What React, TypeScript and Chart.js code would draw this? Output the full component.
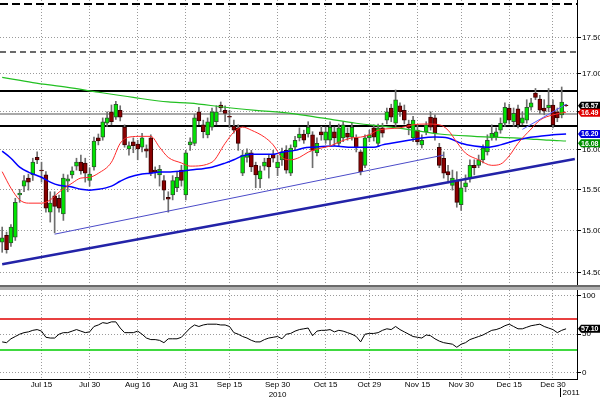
import React, { useEffect, useRef } from 'react';
import { Chart, registerables } from 'chart.js';

Chart.register(...registerables);

// ---------- categories ----------
const FIRST_DAY = '2010-07-01';
const HOLIDAYS = ['2010-07-05', '2010-09-06', '2010-11-25', '2010-12-24'];
const SLOTS = 132;
const MONTH_NAMES = ['Jan', 'Feb', 'Mar', 'Apr', 'May', 'Jun', 'Jul', 'Aug', 'Sep', 'Oct', 'Nov', 'Dec'];

function buildTradingDays(): string[] {
  const out: string[] = [];
  const d = new Date(FIRST_DAY + 'T00:00:00Z');
  while (out.length < SLOTS) {
    const iso = d.toISOString().slice(0, 10);
    const wd = d.getUTCDay();
    if (wd !== 0 && wd !== 6 && !HOLIDAYS.includes(iso)) {
      out.push(`${MONTH_NAMES[d.getUTCMonth()]} ${d.getUTCDate()}`);
    }
    d.setUTCDate(d.getUTCDate() + 1);
  }
  return out;
}
const dates = buildTradingDays();

const tickDates = ['Jul 15', 'Jul 30', 'Aug 16', 'Aug 31', 'Sep 15', 'Sep 30', 'Oct 15', 'Oct 29', 'Nov 15', 'Nov 30', 'Dec 15', 'Dec 30'];
const yearLabels = ['2010', '2011'];

// ---------- price series (OHLC) ----------
const opens = [14.86,14.94,14.85,14.92,15.43,15.54,15.64,15.68,15.90,15.74,
15.68,15.22,15.42,15.39,15.20,15.60,15.68,15.79,15.84,15.83,
15.61,15.78,16.15,16.16,16.34,16.49,16.42,16.51,16.29,16.01,
16.10,16.07,16.03,16.01,16.15,15.74,15.68,15.61,15.40,15.43,
15.52,15.74,15.43,16.06,16.08,16.49,16.32,16.19,16.29,16.36,
16.58,16.51,16.43,16.30,16.28,15.70,15.90,15.96,15.80,15.63,
15.79,15.89,15.94,15.77,15.87,15.99,15.70,16.03,16.15,16.20,
16.20,16.19,15.96,16.23,16.12,16.12,16.23,16.08,16.15,16.21,
16.16,16.15,15.97,15.80,16.15,16.28,16.08,16.28,16.38,16.54,
16.34,16.57,16.51,16.33,16.15,16.25,16.06,16.23,16.42,16.41,
16.03,15.89,15.72,15.55,15.61,15.31,15.53,15.64,15.80,15.80,
15.87,15.97,16.15,16.16,16.25,16.34,16.54,16.36,16.53,16.34,
16.38,16.55,16.74,16.66,16.54,16.54,16.58,16.49,16.45,16.58];

const highs = [15.04,14.98,15.07,15.39,15.50,15.67,15.69,15.89,15.97,15.84,
15.72,15.47,15.47,15.43,15.69,15.68,15.78,15.89,15.93,15.89,
15.77,16.16,16.20,16.41,16.49,16.58,16.63,16.57,16.32,16.10,
16.15,16.12,16.21,16.06,16.19,15.78,15.80,15.67,15.47,15.67,
15.72,15.80,15.99,16.15,16.46,16.55,16.38,16.41,16.54,16.57,
16.62,16.57,16.51,16.38,16.32,15.99,16.01,15.99,15.84,15.79,
15.89,15.94,15.99,15.93,16.02,16.05,16.06,16.17,16.28,16.25,
16.36,16.23,16.15,16.30,16.29,16.36,16.29,16.33,16.36,16.28,
16.34,16.19,15.99,16.19,16.25,16.32,16.33,16.34,16.54,16.59,
16.78,16.61,16.58,16.38,16.43,16.32,16.19,16.36,16.49,16.45,
16.08,15.97,15.80,15.74,15.72,15.61,15.68,15.87,15.87,15.93,
16.06,16.19,16.32,16.28,16.41,16.61,16.59,16.54,16.58,16.49,
16.65,16.67,16.80,16.71,16.65,16.80,16.65,16.54,16.82,16.59];

const lows = [14.74,14.73,14.81,14.88,15.34,15.47,15.49,15.61,15.82,15.59,
15.22,15.10,14.97,15.22,15.12,15.47,15.64,15.74,15.69,15.59,
15.54,15.74,16.06,16.12,16.30,16.32,16.39,16.37,16.03,15.93,
15.96,15.87,15.97,15.90,15.67,15.64,15.54,15.37,15.22,15.37,
15.47,15.54,15.37,15.99,16.05,16.32,16.15,16.15,16.25,16.32,
16.49,16.36,16.28,16.21,15.99,15.67,15.84,15.72,15.52,15.52,
15.74,15.64,15.84,15.67,15.80,15.70,15.67,15.99,16.11,16.08,
16.16,15.77,15.92,16.12,16.08,16.06,16.05,16.05,16.10,16.12,
16.12,15.97,15.68,15.77,16.10,16.11,16.05,16.16,16.33,16.36,
16.30,16.43,16.33,16.19,16.10,16.06,16.02,16.19,16.25,16.12,
15.77,15.64,15.58,15.49,15.28,15.24,15.47,15.59,15.68,15.77,
15.83,15.93,16.12,16.12,16.21,16.30,16.33,16.30,16.28,16.32,
16.34,16.51,16.65,16.47,16.45,16.49,16.28,16.36,16.41,16.56];

const closes = [14.91,14.77,15.04,15.34,15.45,15.61,15.59,15.84,15.87,15.73,
15.27,15.33,15.29,15.27,15.64,15.63,15.73,15.84,15.73,15.70,
15.69,16.11,16.11,16.36,16.41,16.36,16.59,16.42,16.06,16.05,
16.05,16.01,16.15,15.98,15.70,15.72,15.75,15.49,15.38,15.61,
15.65,15.61,15.96,16.10,16.41,16.37,16.23,16.36,16.49,16.49,
16.54,16.47,16.42,16.25,16.08,15.93,15.96,15.78,15.68,15.73,
15.84,15.78,15.89,15.84,15.97,15.74,16.02,16.12,16.20,16.12,
16.29,15.99,16.08,16.19,16.23,16.29,16.15,16.28,16.32,16.16,
16.29,16.02,15.72,16.15,16.19,16.16,16.28,16.21,16.49,16.42,
16.65,16.49,16.38,16.28,16.38,16.10,16.12,16.32,16.29,16.21,
15.80,15.70,15.68,15.64,15.34,15.52,15.58,15.80,15.77,15.87,
16.02,16.12,16.21,16.23,16.34,16.55,16.38,16.47,16.32,16.41,
16.55,16.61,16.68,16.51,16.50,16.58,16.32,16.41,16.62,16.57];

// ---------- moving averages (read at sample points) ----------
const redMAIdx = [0,2,4,6,9,11,13,16,18,20,22,25,27,29,32,34,36,38,41,43,48,51,53,55,57,60,62,64,66,68,70,73,75,77,80,82,84,86,91,94,97,100,102,104,106,109,112,114,116,118,121,123,126,129];
const redMAVal = [15.72,15.515,15.37,15.33,15.33,15.37,15.465,15.577,15.64,15.65,15.70,15.84,16.08,16.16,16.17,16.17,16.03,15.90,15.83,15.79,15.84,16.08,16.225,16.29,16.25,16.16,16.06,15.90,15.87,15.90,15.967,16.02,16.045,16.095,16.15,16.16,16.19,16.25,16.28,16.32,16.33,16.32,16.25,16.095,15.955,15.87,15.80,15.815,15.92,16.08,16.265,16.38,16.45,16.485];

const blueMAIdx = [0,2,4,6,9,11,13,16,18,20,22,25,27,29,32,34,36,38,41,43,48,51,53,55,57,62,64,67,69,71,76,80,85,87,89,93,96,99,102,105,108,111,114,117,120,123,126,129];
const blueMAVal = [15.98,15.89,15.777,15.715,15.65,15.59,15.55,15.53,15.50,15.49,15.50,15.54,15.60,15.65,15.69,15.70,15.715,15.715,15.727,15.74,15.777,15.828,15.87,15.92,15.94,15.94,15.967,15.99,16.02,16.03,16.045,16.03,16.03,16.06,16.08,16.12,16.15,16.16,16.15,16.08,16.045,16.03,16.06,16.11,16.15,16.17,16.19,16.20];

const greenMAIdx = [0,7,15,22,30,38,43,51,58,66,73,81,89,94,100,108,112,117,121,125,129];
const greenMAVal = [16.95,16.88,16.815,16.75,16.68,16.62,16.605,16.55,16.51,16.47,16.41,16.34,16.29,16.25,16.20,16.17,16.16,16.15,16.135,16.12,16.11];

// ---------- trend lines (endpoints) ----------
const trendMainIdx = [0, 131];
const trendMainVal = [14.60, 15.88];
const trendLowIdx = [12, 101];
const trendLowVal = [14.955, 15.93];
const trendShortIdx = [119, 129];
const trendShortVal = [16.26, 16.59];

// ---------- horizontal levels ----------
const levelValues = [17.97, 17.29, 16.77, 16.46, 16.30];

// ---------- axis ticks & tags ----------
const priceTicks = [14.5, 15, 15.5, 16, 16.5, 17, 17.5];
const priceMin = 14.36;
const priceMax = 18.03;
const tagValues = [16.57, 16.49, 16.20, 16.08];

// ---------- RSI ----------
const rsiValues = [40,39,44,47,50,52,53,55,56,54,
46,45,45,50,52,52,54,56,54,52,
53,60,62,65,64,66,66,58,52,52,
52,54,50,45,43,43,42,39,44,44,
44,46,52,58,62,60,62,63,63,63,
62,62,60,52,50,47,45,42,40,40,
43,45,46,47,44,50,51,54,56,57,
58,48,54,55,55,56,53,55,54,52,
50,47,40,50,51,51,52,55,57,56,
60,56,53,50,47,46,45,49,48,44,
41,39,38,37,33,37,39,43,45,47,
49,52,55,56,58,61,63,60,57,57,
59,61,62,63,60,58,56,52,55,57];
const rsiTicks = [0, 50, 100];
const rsiBands = [70, 30];
const rsiLast = 57.10;
const rsiMin = -8.2;
const rsiMax = 107.4;

const FONT_FAMILY = "'Liberation Sans', Arial, sans-serif";

function pts(idx: number[], vals: number[]) {
  return idx.map((i, k) => ({ x: dates[i], y: vals[k] }));
}

export default function App() {
  const topRef = useRef<HTMLCanvasElement>(null);
  const botRef = useRef<HTMLCanvasElement>(null);

  useEffect(() => {
    document.body.style.margin = '0';
    const font = { family: FONT_FAMILY, size: 8 };
    const gridColor = '#9a9a9a';
    const filterTicks = (s: any) => {
      s.ticks = s.ticks.filter((t: any) => tickDates.includes(dates[t.value]));
    };
    const fitRight = (s: any) => {
      s.width = 23;
      s.paddingTop = 0;
      s.paddingBottom = 0;
    };

    const levelStyles = [
      { color: '#000000', width: 2, dash: [8, 4] },
      { color: '#6a6a6a', width: 2, dash: [6, 4] },
      { color: '#000000', width: 2, dash: [] as number[] },
      { color: '#8c8c8c', width: 1.5, dash: [] as number[] },
      { color: '#000000', width: 2, dash: [] as number[] },
    ];
    const tagColors = ['#000000', '#e00000', '#0000e0', '#009000'];

    const levelPlugin = {
      id: 'levels',
      beforeDatasetsDraw(chart: any) {
        const { ctx, chartArea } = chart;
        const ys = chart.scales.y;
        ctx.save();
        levelValues.forEach((v, k) => {
          const st = levelStyles[k];
          const y = Math.round(ys.getPixelForValue(v));
          ctx.beginPath();
          ctx.strokeStyle = st.color;
          ctx.lineWidth = st.width;
          ctx.setLineDash(st.dash);
          ctx.moveTo(chartArea.left, y);
          ctx.lineTo(chartArea.right, y);
          ctx.stroke();
        });
        ctx.restore();
      },
    };

    const drawTag = (ctx: any, x: number, y: number, text: string, bg: string) => {
      const h = 8;
      ctx.fillStyle = bg;
      ctx.beginPath();
      ctx.moveTo(x, y);
      ctx.lineTo(x + 3, y - h / 2);
      ctx.lineTo(600, y - h / 2);
      ctx.lineTo(600, y + h / 2);
      ctx.lineTo(x + 3, y + h / 2);
      ctx.closePath();
      ctx.fill();
      ctx.fillStyle = '#ffffff';
      ctx.font = `bold 7px ${FONT_FAMILY}`;
      ctx.textBaseline = 'middle';
      ctx.textAlign = 'left';
      ctx.fillText(text, x + 3, y + 0.5);
    };

    const tagPlugin = {
      id: 'tags',
      afterDraw(chart: any) {
        const { ctx, chartArea } = chart;
        const ys = chart.scales.y;
        const items = tagValues.map((v, k) => ({ v, k, y: ys.getPixelForValue(v) }));
        items.sort((a, b) => a.y - b.y);
        for (let i = 1; i < items.length; i++) {
          if (items[i].y < items[i - 1].y + 7) items[i].y = items[i - 1].y + 7;
        }
        ctx.save();
        items.forEach((it) => drawTag(ctx, chartArea.right + 1, it.y, it.v.toFixed(2), tagColors[it.k]));
        ctx.restore();
      },
    };

    const top = new Chart(topRef.current as HTMLCanvasElement, {
      type: 'bar',
      data: {
        labels: dates,
        datasets: [
          { type: 'line', data: pts(trendMainIdx, trendMainVal), borderColor: '#2323a8', borderWidth: 2.5, pointRadius: 0 } as any,
          { type: 'line', data: pts(trendLowIdx, trendLowVal), borderColor: '#4b4bc8', borderWidth: 1, pointRadius: 0 } as any,
          { type: 'line', data: pts(trendShortIdx, trendShortVal), borderColor: '#5a5aff', borderWidth: 1, pointRadius: 0 } as any,
          { type: 'line', data: pts(redMAIdx, redMAVal), borderColor: '#ff2a2a', borderWidth: 1, pointRadius: 0, cubicInterpolationMode: 'monotone' } as any,
          { type: 'line', data: pts(blueMAIdx, blueMAVal), borderColor: '#0000ff', borderWidth: 1.5, pointRadius: 0, cubicInterpolationMode: 'monotone' } as any,
          { type: 'line', data: pts(greenMAIdx, greenMAVal), borderColor: '#22c022', borderWidth: 1.2, pointRadius: 0, cubicInterpolationMode: 'monotone' } as any,
          {
            type: 'bar',
            data: opens.map((o, i) => [o, closes[i]]),
            backgroundColor: opens.map((o, i) => (closes[i] >= o ? '#00e600' : '#8a0000')),
            borderColor: opens.map((o, i) => (closes[i] >= o ? '#2d5a2d' : '#3a0000')),
            borderWidth: 1,
            borderSkipped: false,
            barThickness: 4,
            grouped: false,
          } as any,
          {
            type: 'bar',
            data: lows.map((l, i) => [l, highs[i]]),
            backgroundColor: '#6e6e6e',
            barThickness: 1,
            grouped: false,
          } as any,
        ],
      },
      options: {
        animation: false,
        responsive: false,
        devicePixelRatio: 1,
        layout: { padding: 0 },
        plugins: { legend: { display: false }, tooltip: { enabled: false } },
        scales: {
          x: {
            type: 'category',
            offset: true,
            grid: { color: gridColor, offset: false, drawTicks: false },
            border: { display: false, dash: [1, 2] },
            ticks: { display: false },
            afterBuildTicks: filterTicks,
          },
          y: {
            type: 'logarithmic',
            position: 'right',
            min: priceMin,
            max: priceMax,
            afterBuildTicks: (s: any) => {
              s.ticks = priceTicks.map((v) => ({ value: v }));
            },
            afterFit: fitRight,
            ticks: { font, color: '#000', padding: 1, callback: (v: any) => Number(v).toFixed(2) },
            grid: { color: gridColor, tickColor: '#000', tickLength: 4 },
            border: { display: true, color: '#000', dash: [1, 2] },
          },
        },
      } as any,
      plugins: [levelPlugin, tagPlugin],
    });

    const rsiPlugin = {
      id: 'rsiExtras',
      beforeDatasetsDraw(chart: any) {
        const { ctx, chartArea } = chart;
        const ys = chart.scales.y;
        const colors = ['#e00000', '#00cc00'];
        ctx.save();
        rsiBands.forEach((v, k) => {
          const y = Math.round(ys.getPixelForValue(v));
          ctx.beginPath();
          ctx.strokeStyle = colors[k];
          ctx.lineWidth = 1.5;
          ctx.moveTo(chartArea.left, y);
          ctx.lineTo(chartArea.right, y);
          ctx.stroke();
        });
        ctx.restore();
      },
      afterDraw(chart: any) {
        const { ctx, chartArea } = chart;
        const ys = chart.scales.y;
        const xs = chart.scales.x;
        ctx.save();
        drawTag(ctx, chartArea.right + 1, ys.getPixelForValue(rsiLast), rsiLast.toFixed(2), '#000000');
        const a = xs.getPixelForValue(dates.indexOf('Dec 31'));
        const b = xs.getPixelForValue(dates.indexOf('Jan 3'));
        const sep = Math.round((a + b) / 2) + 0.5;
        ctx.strokeStyle = '#000';
        ctx.lineWidth = 1;
        ctx.beginPath();
        ctx.moveTo(sep, chartArea.bottom + 9);
        ctx.lineTo(sep, chartArea.bottom + 18);
        ctx.stroke();
        ctx.fillStyle = '#000';
        ctx.font = `8px ${FONT_FAMILY}`;
        ctx.textAlign = 'left';
        ctx.textBaseline = 'middle';
        ctx.fillText(yearLabels[1], sep + 2, chartArea.bottom + 14);
        ctx.restore();
      },
    };

    const bot = new Chart(botRef.current as HTMLCanvasElement, {
      type: 'line',
      data: {
        labels: dates,
        datasets: [
          { data: rsiValues, borderColor: '#000000', borderWidth: 1, pointRadius: 0, tension: 0 },
        ],
      },
      options: {
        animation: false,
        responsive: false,
        devicePixelRatio: 1,
        layout: { padding: 0 },
        plugins: { legend: { display: false }, tooltip: { enabled: false } },
        scales: {
          x: {
            type: 'category',
            offset: true,
            grid: { color: gridColor, offset: false, drawTicks: false },
            border: { display: true, color: '#000', dash: [1, 2] },
            ticks: {
              autoSkip: false,
              maxRotation: 0,
              font,
              color: '#000',
              padding: 1,
              callback: (v: any) => {
                const lab = dates[v as number];
                return lab === 'Sep 30' ? [lab, yearLabels[0]] : lab;
              },
            },
            afterBuildTicks: filterTicks,
            afterFit: (s: any) => {
              s.height = 18;
            },
          },
          y: {
            type: 'linear',
            position: 'right',
            min: rsiMin,
            max: rsiMax,
            afterBuildTicks: (s: any) => {
              s.ticks = rsiTicks.map((v) => ({ value: v }));
            },
            afterFit: fitRight,
            ticks: { font, color: '#000', padding: 1, callback: (v: any) => String(v) },
            grid: { color: gridColor, tickColor: '#000', tickLength: 4 },
            border: { display: true, color: '#000', dash: [1, 2] },
          },
        },
      } as any,
      plugins: [rsiPlugin],
    });

    return () => {
      top.destroy();
      bot.destroy();
    };
  }, []);

  return (
    <div style={{ width: 600, height: 397, background: '#ffffff', overflow: 'hidden' }}>
      <canvas ref={topRef} width={600} height={285} style={{ display: 'block' }} />
      <div style={{ width: 600, height: 5, boxSizing: 'border-box', borderTop: '2px solid #6a6a6a', background: '#b0b0b0' }} />
      <canvas ref={botRef} width={600} height={107} style={{ display: 'block' }} />
    </div>
  );
}
